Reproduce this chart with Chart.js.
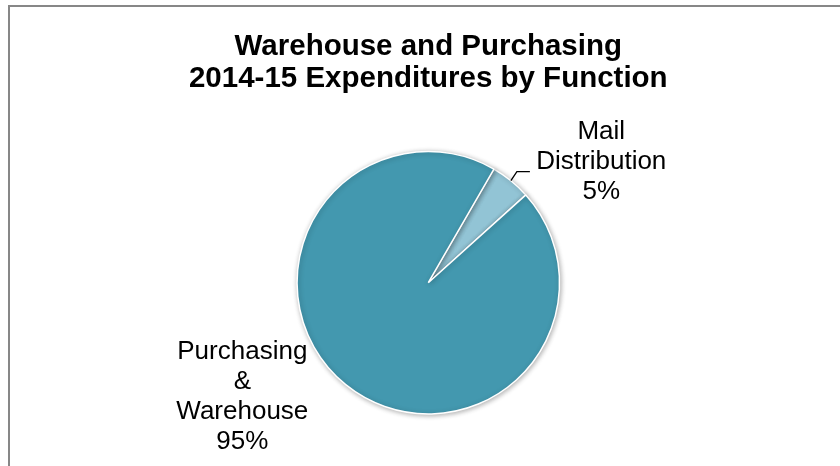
<!DOCTYPE html>
<html>
<head>
<meta charset="utf-8">
<title>Warehouse and Purchasing 2014-15 Expenditures by Function</title>
<script src="https://cdn.jsdelivr.net/npm/chart.js@4.4.1/dist/chart.umd.min.js"></script>
<style>
  html, body { margin: 0; padding: 0; background: #ffffff; }
  canvas { display: block; }
</style>
</head>
<body>
<canvas id="chart" width="840" height="466"></canvas>
<script>
// Expenditure split by function, fiscal year 2014-15
const titleLines = ['Warehouse and Purchasing', '2014-15 Expenditures by Function'];
const categories = ['Mail Distribution', 'Purchasing & Warehouse'];
const labelLines = [['Mail', 'Distribution'], ['Purchasing', '&', 'Warehouse']];
const shares = [5, 95];
const sliceColors = ['#92C4D5', '#4398AF'];

// Outer frame of the chart
const framePlugin = {
  id: 'frame',
  beforeDraw(chart) {
    const ctx = chart.ctx;
    ctx.save();
    ctx.fillStyle = '#ffffff';
    ctx.fillRect(0, 0, chart.width, chart.height);
    ctx.strokeStyle = '#878787';
    ctx.lineWidth = 2;
    ctx.strokeRect(9, 6, chart.width + 20, chart.height + 20);
    ctx.restore();
  }
};

// Soft drop shadow beneath the pie
const shadowPlugin = {
  id: 'pieShadow',
  beforeDatasetsDraw(chart) {
    const ctx = chart.ctx;
    ctx.save();
    ctx.shadowColor = 'rgba(0,0,0,0.3)';
    ctx.shadowBlur = 5;
    ctx.shadowOffsetX = 1;
    ctx.shadowOffsetY = 1;
  },
  afterDatasetsDraw(chart) {
    chart.ctx.restore();
  }
};

// Category name and share written outside each slice
const sliceLabelPlugin = {
  id: 'sliceLabels',
  afterDatasetsDraw(chart, args, opts) {
    const ctx = chart.ctx;
    const meta = chart.getDatasetMeta(0);
    const values = chart.data.datasets[0].data;
    const total = values.reduce((a, b) => a + b, 0);
    ctx.save();
    ctx.font = opts.font;
    ctx.fillStyle = '#000000';
    ctx.textAlign = 'center';
    ctx.textBaseline = 'middle';
    meta.data.forEach((arc, i) => {
      const p = arc.getProps(['x', 'y', 'startAngle', 'endAngle', 'outerRadius'], true);
      const mid = (p.startAngle + p.endAngle) / 2;
      const place = opts.placement[i];
      const cx = p.x + place.dx;
      const cy = p.y + place.dy;
      const lines = labelLines[i].concat([Math.round(values[i] / total * 100) + '%']);
      const top = cy - (lines.length - 1) * opts.lineHeight / 2;
      lines.forEach((t, k) => ctx.fillText(t, cx, top + k * opts.lineHeight));
      if (place.leader) {
        const ex = p.x + Math.cos(mid) * p.outerRadius;
        const ey = p.y + Math.sin(mid) * p.outerRadius;
        ctx.beginPath();
        ctx.strokeStyle = '#000000';
        ctx.lineWidth = 1.3;
        ctx.moveTo(ex, ey);
        ctx.lineTo(ex + 6, ey - 9);
        ctx.lineTo(ex + 19, ey - 9);
        ctx.stroke();
      }
    });
    ctx.restore();
  }
};

new Chart(document.getElementById('chart'), {
  type: 'pie',
  data: {
    labels: categories,
    datasets: [{
      data: shares,
      backgroundColor: sliceColors,
      borderColor: '#ffffff',
      borderWidth: 1.5
    }]
  },
  options: {
    responsive: false,
    animation: false,
    rotation: 30,
    layout: { padding: { left: 16.6, right: 0, top: 0, bottom: 51.3 } },
    plugins: {
      legend: { display: false },
      tooltip: { enabled: false },
      title: {
        display: true,
        text: titleLines,
        color: '#000000',
        font: { family: '"Liberation Sans", Arial, sans-serif', size: 29.5, weight: 'bold', lineHeight: 1.08 },
        padding: { top: 31, bottom: 56 }
      },
      sliceLabels: {
        font: '26px "Liberation Sans", Arial, sans-serif',
        lineHeight: 30,
        placement: [
          { dx: 173, dy: -121, leader: true },
          { dx: -186, dy: 114, leader: false }
        ]
      }
    }
  },
  plugins: [framePlugin, shadowPlugin, sliceLabelPlugin]
});
</script>
</body>
</html>
